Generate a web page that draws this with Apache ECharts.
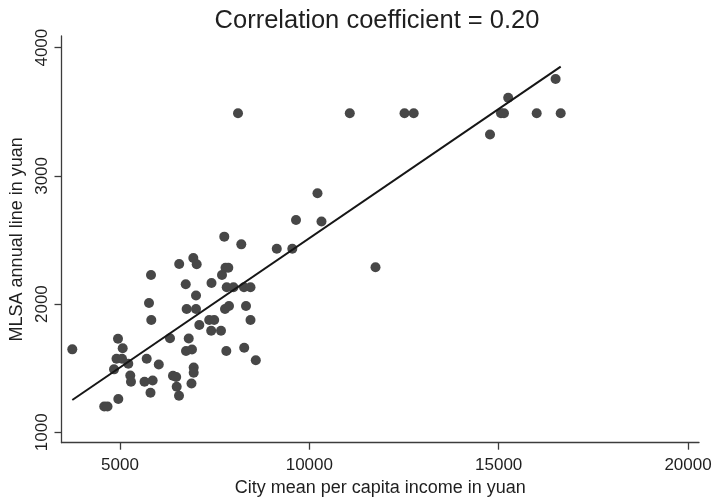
<!DOCTYPE html>
<html>
<head>
<meta charset="utf-8">
<title>MLSA line vs city income</title>
<script src="https://cdn.jsdelivr.net/npm/echarts@6/dist/echarts.min.js"></script>
<style>
  html, body { margin: 0; padding: 0; background: #ffffff; }
  #chart { width: 714px; height: 497px; }
</style>
</head>
<body>
<div id="chart"></div>
<script>
// City mean per capita income (yuan) for each city
const incomeValues = [
  3740, 4947, 5071, 4908, 5053, 4842, 5219, 5271, 5290, 4955,
  4583, 4670, 5705, 5647, 5862, 5805, 6024, 5819, 5766, 5826,
  6320, 6563, 6736, 7007, 6936, 7025, 6760, 7007, 7094, 6815,
  6743, 6901, 6399, 6484, 6497, 6558, 6946, 6946, 6888, 7416,
  7355, 7487, 7408, 7667, 7693, 7786, 7860, 7818, 7997, 7773,
  7878, 7807, 7754, 8203, 8274, 8446, 8327, 8446, 8280, 8586,
  9140, 9550, 9648, 10321, 10215, 11747, 8116, 11068, 12513, 12756,
  14771, 15061, 15140, 15251, 16004, 16503, 16638
];

// MLSA annual line (yuan) for the same cities
const mlsaValues = [
  1647, 1730, 1655, 1574, 1574, 1491, 1535, 1443, 1395, 1260,
  1201, 1201, 1574, 1395, 1404, 1308, 1529, 2227, 2009, 1876,
  1733, 2313, 2155, 2067, 2360, 2311, 1962, 1962, 1837, 1732,
  1634, 1646, 1441, 1431, 1356, 1285, 1505, 1465, 1381, 2165,
  1876, 1876, 1792, 1792, 2227, 2284, 2284, 2131, 2131, 1962,
  1985, 1634, 2526, 2466, 2131, 2131, 1985, 1876, 1659, 1562,
  2431, 2431, 2656, 2644, 2864, 2287, 3488, 3488, 3488, 3488,
  3323, 3488, 3488, 3610, 3488, 3756, 3488
];

// Endpoints of the fitted line
const fitIncome = [3740, 16638];
const fitMlsa = [1252, 3852];

// Tick labels
const xTicks = [5000, 10000, 15000, 20000];
const yTicks = [1000, 2000, 3000, 4000];

const titleText = 'Correlation coefficient = 0.20';
const xName = 'City mean per capita income in yuan';
const yName = 'MLSA annual line in yuan';

const points = incomeValues.map((v, i) => [v, mlsaValues[i]]);
const fitLine = fitIncome.map((v, i) => [v, fitMlsa[i]]);

const textColor = '#1f1f1f';
const axisColor = '#3c3c3c';
const fontFamily = '"Liberation Sans", Arial, Helvetica, sans-serif';
const plain = (v) => String(v);

const chart = echarts.init(document.getElementById('chart'), null, { renderer: 'canvas' });

chart.setOption({
  animation: false,
  backgroundColor: '#ffffff',
  title: {
    text: titleText,
    left: 372,
    top: 3,
    textAlign: 'center',
    textStyle: { fontFamily, fontSize: 25.5, fontWeight: 'normal', color: textColor }
  },
  grid: { left: 61.5, right: 15, top: 36, bottom: 54.3, containLabel: false, outerBoundsMode: 'none' },
  xAxis: {
    type: 'value',
    min: 3455,
    max: 20290,
    name: xName,
    nameLocation: 'middle',
    nameGap: 31,
    nameTextStyle: { fontFamily, fontSize: 18, color: textColor },
    axisLine: { show: true, onZero: false, lineStyle: { color: axisColor, width: 1.3 } },
    axisTick: { show: true, length: 7, customValues: xTicks, lineStyle: { color: axisColor, width: 1.3 } },
    axisLabel: { customValues: xTicks, formatter: plain, margin: 14, fontFamily, fontSize: 17, color: textColor },
    splitLine: { show: false }
  },
  yAxis: {
    type: 'value',
    min: 919,
    max: 4091,
    name: yName,
    nameLocation: 'middle',
    nameGap: 24,
    nameTextStyle: { fontFamily, fontSize: 18, color: textColor },
    axisLine: { show: true, onZero: false, lineStyle: { color: axisColor, width: 1.3 } },
    axisTick: { show: true, length: 7, customValues: yTicks, lineStyle: { color: axisColor, width: 1.3 } },
    axisLabel: { customValues: yTicks, formatter: plain, rotate: 90, margin: 11, fontFamily, fontSize: 17, color: textColor },
    splitLine: { show: false }
  },
  series: [
    {
      type: 'scatter',
      data: points,
      symbol: 'circle',
      symbolSize: 10,
      itemStyle: { color: '#474747', opacity: 1 },
      z: 2
    },
    {
      type: 'line',
      data: fitLine,
      showSymbol: false,
      symbol: 'none',
      lineStyle: { color: '#161616', width: 2 },
      z: 3
    }
  ]
});
</script>
</body>
</html>
